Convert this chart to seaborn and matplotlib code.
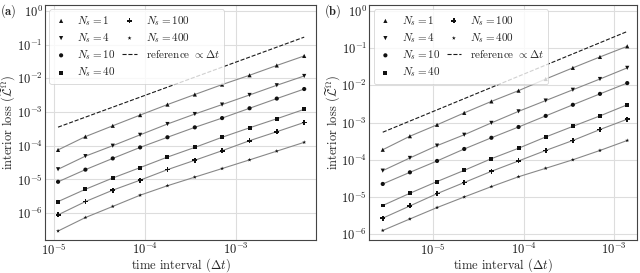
import numpy as np
import pandas as pd
import seaborn as sns
import matplotlib.pyplot as plt

# time step sizes (halving each time)
dt_a = [1.1e-5, 2.2e-5, 4.4e-5, 8.8e-5, 1.76e-4, 3.52e-4, 7.03e-4, 1.41e-3, 2.81e-3, 5.63e-3]
dt_b = [2.75e-6, 5.5e-6, 1.1e-5, 2.2e-5, 4.4e-5, 8.8e-5, 1.76e-4, 3.52e-4, 7.03e-4, 1.41e-3]

ns_labels = ['$N_s = 1$', '$N_s = 4$', '$N_s = 10$', '$N_s = 40$', '$N_s = 100$', '$N_s = 400$']
markers = ['^', 'v', 'o', 's', 'P', '*']
sizes = [9, 9, 9, 8, 13, 9]

# panel (a) interior loss
loss_a_1 = [7.5e-5, 1.86e-4, 3.9e-4, 8.1e-4, 1.66e-3, 3.3e-3, 6.5e-3, 1.23e-2, 2.4e-2, 4.6e-2]
loss_a_4 = [2.0e-5, 4.9e-5, 1.0e-4, 2.1e-4, 4.4e-4, 8.7e-4, 1.66e-3, 3.2e-3, 6.2e-3, 1.17e-2]
loss_a_10 = [8.5e-6, 1.95e-5, 4.2e-5, 8.9e-5, 1.78e-4, 3.5e-4, 6.6e-4, 1.29e-3, 2.5e-3, 4.8e-3]
loss_a_40 = [2.2e-6, 5.1e-6, 1.1e-5, 2.24e-5, 4.6e-5, 8.9e-5, 1.78e-4, 3.4e-4, 6.3e-4, 1.2e-3]
loss_a_100 = [8.9e-7, 2.2e-6, 4.8e-6, 9.5e-6, 1.95e-5, 3.7e-5, 7.1e-5, 1.41e-4, 2.6e-4, 4.9e-4]
loss_a_400 = [2.95e-7, 7.4e-7, 1.58e-6, 3.4e-6, 6.5e-6, 1.17e-5, 2.1e-5, 3.8e-5, 6.9e-5, 1.26e-4]
ref_a = [3.55e-4, 1.66e-1]

# panel (b) interior loss
loss_b_1 = [1.86e-4, 4.3e-4, 8.7e-4, 1.82e-3, 3.7e-3, 7.2e-3, 1.48e-2, 2.95e-2, 5.8e-2, 1.12e-1]
loss_b_4 = [5.1e-5, 1.12e-4, 2.4e-4, 4.7e-4, 9.8e-4, 2.0e-3, 3.9e-3, 7.6e-3, 1.48e-2, 2.95e-2]
loss_b_10 = [2.24e-5, 4.6e-5, 9.3e-5, 1.95e-4, 3.9e-4, 7.6e-4, 1.51e-3, 3.0e-3, 5.9e-3, 1.15e-2]
loss_b_40 = [5.9e-6, 1.26e-5, 2.6e-5, 5.2e-5, 1.07e-4, 2.04e-4, 4.1e-4, 7.9e-4, 1.51e-3, 3.0e-3]
loss_b_100 = [2.7e-6, 5.75e-6, 1.23e-5, 2.45e-5, 4.9e-5, 9.3e-5, 1.78e-4, 3.3e-4, 6.5e-4, 1.23e-3]
loss_b_400 = [1.26e-6, 2.57e-6, 5.2e-6, 1.0e-5, 1.9e-5, 3.5e-5, 5.9e-5, 1.0e-4, 1.78e-4, 3.3e-4]
ref_b = [5.5e-4, 2.8e-1]

sns.set_theme(style='whitegrid')
plt.rcParams['font.family'] = ['cmr10', 'DejaVu Serif']
plt.rcParams['mathtext.fontset'] = 'cm'
plt.rcParams['axes.formatter.use_mathtext'] = True

fig = plt.figure(figsize=(6.4, 2.73), dpi=100)
ax_a = fig.add_axes([0.0703, 0.121, 0.4235, 0.861])
ax_b = fig.add_axes([0.577, 0.121, 0.418, 0.861])

panels = [
    (ax_a, dt_a, [loss_a_1, loss_a_4, loss_a_10, loss_a_40, loss_a_100, loss_a_400], ref_a,
     (7.9e-6, 7.6e-3), (1.6e-7, 1.5), '$(\\mathbf{a})$'),
    (ax_b, dt_b, [loss_b_1, loss_b_4, loss_b_10, loss_b_40, loss_b_100, loss_b_400], ref_b,
     (1.95e-6, 1.8e-3), (7e-7, 1.45), '$(\\mathbf{b})$'),
]

for ax, dt, series, ref, xlim, ylim, tag in panels:
    for vals, lab, m, sz in zip(series, ns_labels, markers, sizes):
        df = pd.DataFrame({'dt': dt, 'loss': vals})
        sns.lineplot(data=df, x='dt', y='loss', color='#888888', lw=0.8, ax=ax, legend=False)
        sns.scatterplot(data=df, x='dt', y='loss', marker=m, color='#111111', s=sz,
                        edgecolor='none', ax=ax, label=lab, zorder=3)
    ref_df = pd.DataFrame({'dt': [dt[0], dt[-1]], 'loss': ref})
    sns.lineplot(data=ref_df, x='dt', y='loss', color='k', lw=0.8, ls='--', ax=ax,
                 label='reference $\\propto \\Delta t$')
    ax.set_xscale('log')
    ax.set_yscale('log')
    ax.set_xlim(*xlim)
    ax.set_ylim(*ylim)
    ax.set_xlabel('time interval $(\\Delta t)$', fontsize=9, labelpad=-1)
    ax.set_ylabel('interior loss $(\\widetilde{\\mathcal{L}}^{\\Omega})$', fontsize=9, labelpad=-1)
    ax.grid(True, which='major', color='#dddddd', lw=0.8)
    ax.grid(False, which='minor')
    for s in ax.spines.values():
        s.set_color('#444444')
        s.set_linewidth(0.8)
    ax.tick_params(which='both', direction='in', colors='#444444', labelcolor='k', labelsize=9, pad=1.5)
    ax.tick_params(which='major', length=3)
    ax.tick_params(which='minor', length=1.5, width=0.6)
    ax.text(-0.105, 0.975, tag, transform=ax.transAxes, fontsize=9, va='center', ha='right')
    leg = ax.legend(loc='upper left', ncol=2, fontsize=8, labelspacing=0.3, handlelength=1.3,
                    handletextpad=0.8, columnspacing=0.6, borderaxespad=0.4, frameon=True,
                    fancybox=True, framealpha=0.8)
    leg.get_frame().set_edgecolor('#cccccc')
    leg.get_frame().set_linewidth(0.6)

ax_a.set_xticks([1e-5, 1e-4, 1e-3])
ax_b.set_xticks([1e-5, 1e-4, 1e-3])
for ax in (ax_a, ax_b):
    ax.set_yticks([1e-6, 1e-5, 1e-4, 1e-3, 1e-2, 1e-1, 1e0])

fig.savefig('out.png', dpi=100)
